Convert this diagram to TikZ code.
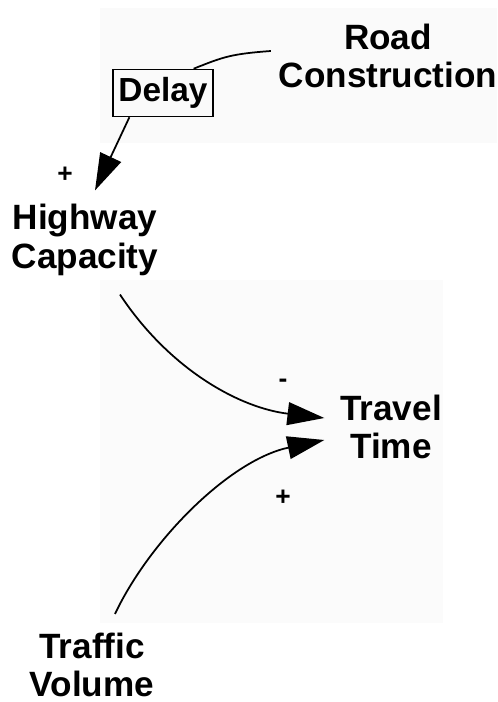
\documentclass[tikz,border=0pt]{standalone}
\usepackage{fontspec}
\setmainfont{Liberation Sans}
\usepackage{tikz}
\usetikzlibrary{arrows.meta, calc}

\tikzset{
    var/.style={font=\fontsize{20}{22}\selectfont\bfseries, align=center, inner sep=2pt},
    delaybox/.style={draw, line width=0.9pt, font=\fontsize{19}{21}\selectfont\bfseries, inner xsep=3pt, inner ysep=4.5pt},
    sign/.style={font=\fontsize{15}{15}\selectfont\bfseries, inner sep=1pt},
    link/.style={line width=1pt, -{Triangle[length=21pt, width=13pt]}},
}

\begin{document}
\begin{tikzpicture}[x=0.02cm, y=-0.02cm]
    \useasboundingbox (0,0) rectangle (497,702);
    \fill[gray!4] (100,8) rectangle (497,143);
    \fill[gray!3] (100,280) rectangle (443,623);

    \node[var] (rc) at (388,56) {Road\\Construction};
    \node[delaybox] (dl) at (163,93) {Delay};
    \node[var] (hc) at (85,240) {Highway\\Capacity};
    \node[var] (tt) at (391,427) {Travel\\Time};
    \node[var] (tv) at (92,665) {Traffic\\Volume};

    \node[sign] (p1) at (65,175) {+};
    \node[sign] (m1) at (283,383) {-};
    \node[sign] (p2) at (283,498) {+};

    \draw[line width=1pt] ($(rc.west)+(-4,-5)$) .. controls +(-40,3) and +(30,-12) .. ($(dl.north east)+(-20,0)$);
    \draw[link] ($(dl.south west)+(17,0)$) -- ($(hc.north)+(10,-10)$);
    \draw[link] ($(hc.south)+(35,15)$) .. controls (170,370) and (240,408) .. ($(tt.west)+(-12,-9)$);
    \draw[link] ($(tv.north)+(23,-15)$) .. controls (150,540) and (230,460) .. ($(tt.west)+(-12,13)$);
\end{tikzpicture}
\end{document}
